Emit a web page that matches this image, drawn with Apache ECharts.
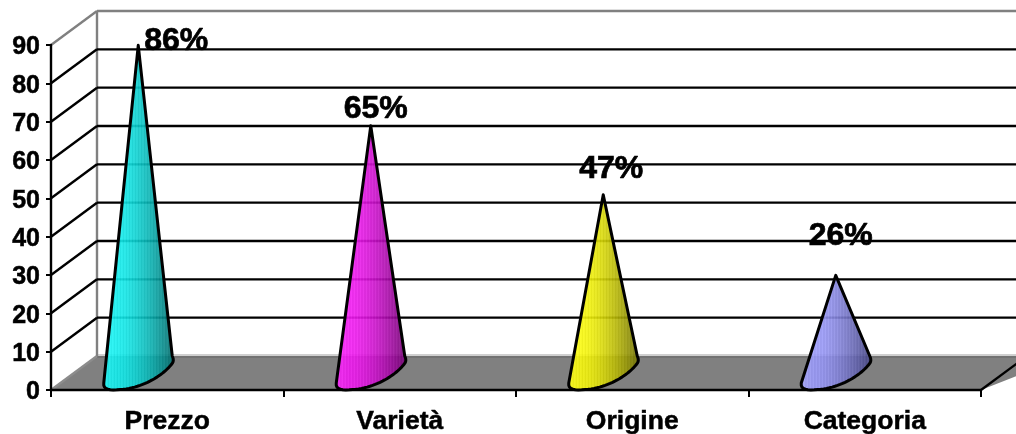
<!DOCTYPE html>
<html><head><meta charset="utf-8">
<style>html,body{margin:0;padding:0;background:#fff}#c{width:1016px;height:434px}</style>
<script src="https://cdn.jsdelivr.net/npm/echarts@6/dist/echarts.min.js"></script>
</head><body><div id="c"></div>
<script>
const categories = ['Prezzo', 'Varietà', 'Origine', 'Categoria'];
const values = [86, 65, 47, 26];
const yTicks = [0, 10, 20, 30, 40, 50, 60, 70, 80, 90];

// style / layout only
const FONT = '"Liberation Sans", Arial, sans-serif';
const palettes = [
  [[30, 245, 245], [0, 215, 215], [0, 100, 100]],
  [[250, 40, 250], [215, 0, 215], [110, 0, 110]],
  [[255, 255, 20], [225, 225, 0], [105, 105, 0]],
  [[165, 165, 255], [130, 130, 230], [65, 65, 125]]
];
const labelNudge = [[38, -4], [5, -17], [8, -26], [5, -39]];
const DX = 46, DY = -34;          // depth of the 3D box
const CONE_DX = -29, CONE_DY = -15; // base centre relative to category at 0
const LINE_W = 2.4;

function mix(a, b, t) { return a.map((v, i) => Math.round(v + (b[i] - v) * t)); }
function coneFill(p) {
  const stops = [], n = 48;
  for (let i = 0; i <= n; i++) {
    const t = i / n;
    let c = t < 0.2 ? mix(p[0], p[1], t / 0.2 * 0.4) : mix(mix(p[0], p[1], 0.4), p[2], Math.pow((t - 0.2) / 0.8, 1.5));
    const d = i % 2 ? 10 : -6;
    c = c.map(v => Math.max(0, Math.min(255, v + d)));
    stops.push({ offset: t, color: 'rgba(' + c.join(',') + ',0.9)' });
  }
  return { type: 'linear', x: 0, y: 0, x2: 1, y2: 0, colorStops: stops };
}
function bez(p0, p1, p2, p3, n) {
  const out = [];
  for (let i = 0; i <= n; i++) {
    const t = i / n, u = 1 - t;
    out.push([
      u*u*u*p0[0] + 3*u*u*t*p1[0] + 3*u*t*t*p2[0] + t*t*t*p3[0],
      u*u*u*p0[1] + 3*u*u*t*p1[1] + 3*u*t*t*p2[1] + t*t*t*p3[1]
    ]);
  }
  return out;
}
function conePoints(cx, yTip, yB) {
  const P = (a, b) => [cx + a, yB + b];
  return [[cx, yTip]]
    .concat(bez(P(34, -19), P(35.5, -16), P(35.5, -13), P(33.5, -11), 6))
    .concat(bez(P(33.5, -11), P(26, -1), P(6, 13), P(-18, 14.5), 24))
    .concat(bez(P(-18, 14.5), P(-28, 15.5), P(-35.5, 15), P(-34.5, 8), 8));
}

function renderWall(params, api) {
  const v = api.value(1);
  const p = api.coord([0, v]);
  const band = api.size([1, 0])[0];
  const left = p[0] - band / 2, right = left + band * categories.length, y = p[1];
  const W = api.getWidth() + 40;
  const gray = v === 0 || v === 90;
  const children = [];
  if (v === 0) {
    children.push({ type: 'polygon', shape: { points: [[left, y], [left + DX, y + DY], [right + DX + 40, y + DY], [right, y]] }, style: { fill: '#808080' } });
    children.push({ type: 'line', shape: { x1: left + DX, y1: y + DY + 1, x2: W, y2: y + DY + 1 }, style: { stroke: '#6e6e6e', lineWidth: 1.5 } });
    children.push({ type: 'line', shape: { x1: left + DX, y1: y + DY - 1, x2: W, y2: y + DY - 1 }, style: { stroke: '#a0a0a0', lineWidth: 1 } });
    children.push({ type: 'line', shape: { x1: left, y1: y, x2: left + DX, y2: y + DY }, style: { stroke: '#8c8c8c', lineWidth: LINE_W } });
    children.push({ type: 'line', shape: { x1: right, y1: y, x2: right + DX, y2: y + DY }, style: { stroke: '#000', lineWidth: LINE_W } });
    const top = api.coord([0, 90])[1];
    children.push({ type: 'line', shape: { x1: left + DX, y1: y + DY, x2: left + DX, y2: top + DY }, style: { stroke: '#808080', lineWidth: LINE_W } });
  } else {
    children.push({ type: 'line', shape: { x1: left, y1: y, x2: left + DX, y2: y + DY }, style: { stroke: gray ? '#808080' : '#000', lineWidth: LINE_W } });
    children.push({ type: 'line', shape: { x1: left + DX, y1: y + DY, x2: W, y2: y + DY }, style: { stroke: gray ? '#808080' : '#000', lineWidth: LINE_W } });
  }
  return { type: 'group', children };
}
function renderCone(params, api) {
  const i = params.dataIndex, v = api.value(1);
  const base = api.coord([i, 0]), tip = api.coord([i, v]);
  const cx = base[0] + CONE_DX, yB = base[1] + CONE_DY, yTip = tip[1] + CONE_DY;
  return { type: 'polygon', shape: { points: conePoints(cx, yTip, yB) },
    style: { fill: coneFill(palettes[i]), stroke: '#000', lineWidth: 3, lineJoin: 'round' } };
}
function renderLabel(params, api) {
  const i = params.dataIndex, v = api.value(1);
  const tip = api.coord([i, v]);
  return { type: 'text', style: {
    text: v + '%', x: tip[0] + CONE_DX + labelNudge[i][0], y: tip[1] + CONE_DY + labelNudge[i][1],
    fill: '#000', stroke: '#000', lineWidth: 0.7, fontSize: 32, fontWeight: 'bold', fontFamily: FONT, align: 'center', verticalAlign: 'middle' } };
}

const chart = echarts.init(document.getElementById('c'), null, { renderer: 'canvas' });
chart.setOption({
  animation: false,
  backgroundColor: '#fff',
  grid: { left: 51, top: 45, width: 930, height: 345, containLabel: false, outerBoundsMode: 'none' },
  xAxis: {
    type: 'category', data: categories, boundaryGap: true, z: 3,
    axisLine: { lineStyle: { color: '#000', width: LINE_W } },
    axisTick: { show: true, length: 7, alignWithLabel: false, lineStyle: { color: '#000', width: 2 } },
    axisLabel: { color: '#000', fontSize: 26.5, fontWeight: 'bold', fontFamily: FONT, margin: 18, textBorderColor: '#000', textBorderWidth: 0.5 }
  },
  yAxis: {
    type: 'value', min: 0, max: 90, interval: 10, z: 3,
    axisLine: { show: true, lineStyle: { color: '#000', width: LINE_W } },
    axisTick: { show: true, length: 5, lineStyle: { color: '#000', width: 2 } },
    splitLine: { show: false },
    axisLabel: { color: '#000', fontSize: 25, fontWeight: 'bold', fontFamily: FONT, margin: 11, verticalAlign: 'top', lineHeight: 5, textBorderColor: '#000', textBorderWidth: 0.5,
      formatter: v => yTicks.includes(v) ? String(v) : '' }
  },
  series: [
    { type: 'custom', z: 1, renderItem: renderWall, clip: false, silent: true,
      data: yTicks.map(v => [0, v]), encode: { x: 0, y: 1 } },
    { type: 'custom', z: 4, renderItem: renderCone, clip: false, silent: true,
      data: values.map((v, i) => [i, v]), encode: { x: 0, y: 1 } },
    { type: 'custom', z: 5, renderItem: renderLabel, clip: false, silent: true,
      data: values.map((v, i) => [i, v]), encode: { x: 0, y: 1 } }
  ]
});
</script></body></html>
